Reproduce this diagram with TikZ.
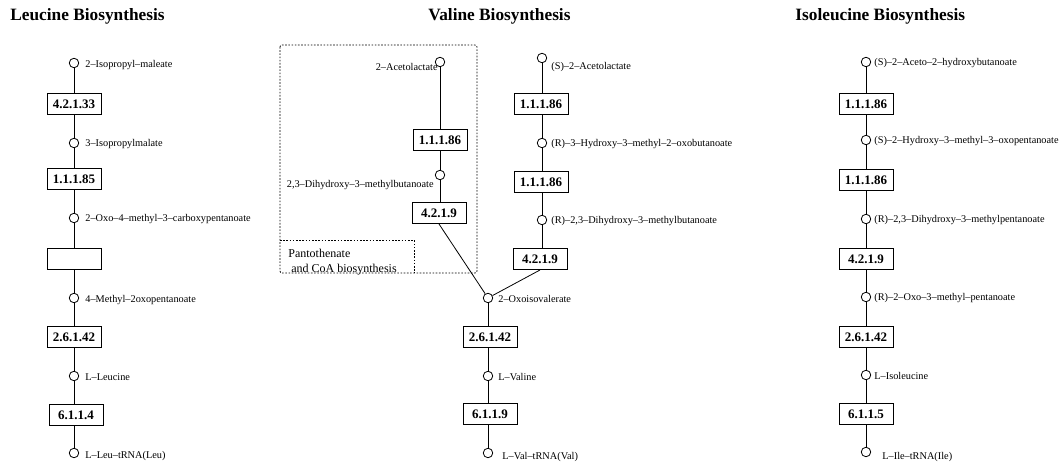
\documentclass[tikz,border=0pt]{standalone}
\usepackage{fontspec}
\setmainfont{Liberation Serif}
\usetikzlibrary{positioning}

\begin{document}
\begin{tikzpicture}[x=1pt,y=-1pt,line width=0.8pt,
	enzyme/.style={draw,fill=white,line width=1pt,minimum width=54pt,minimum height=21pt,inner sep=1pt,font=\fontsize{13}{13}\selectfont\bfseries},
	cpd/.style={circle,draw,fill=white,minimum size=9.5pt,inner sep=0pt},
	cpdlabel/.style={anchor=west,inner sep=0pt,font=\fontsize{10.3}{11}\selectfont},
	pathtitle/.style={anchor=west,inner sep=0pt,font=\fontsize{17.3}{17}\selectfont\bfseries},
	boundary/.style={dash pattern=on 1.6pt off 1.6pt}]
		\useasboundingbox (0,0) rectangle (1063,462);
		% titles
		\node[pathtitle] (leutitle) at (10,16) {Leucine Biosynthesis};
		\node[pathtitle] (valtitle) at (428,16) {Valine Biosynthesis};
		\node[pathtitle] (iletitle) at (795,16) {Isoleucine Biosynthesis};
		% Leucine
		\node[enzyme] (l1) at (74,104) {4.2.1.33};
		\node[enzyme] (l2) at (74,179) {1.1.1.85};
		\node[enzyme] (l3) at (74,259) {};
		\node[enzyme] (l4) at (74,337) {2.6.1.42};
		\node[enzyme] (l5) at (76,415) {6.1.1.4};
		\foreach \n/\y in {la/63,lb/143,lc/218,ld/298,le/376,lf/453}
		\node[cpd] (\n) at (74,\y) {};
		\draw (la) -- (l1) -- (lb) -- (l2) -- (lc) -- (l3) -- (ld) -- (l4) -- (le) -- (le |- l5.north) (l5.south -| lf) -- (lf);
		\node[cpdlabel] at (85,65) {2--Isopropyl--maleate};
		\node[cpdlabel] at (85,144) {3--Isopropylmalate};
		\node[cpdlabel] at (85,219) {2--Oxo--4--methyl--3--carboxypentanoate};
		\node[cpdlabel] at (85,300) {4--Methyl--2oxopentanoate};
		\node[cpdlabel] at (85,377) {L--Leucine};
		\node[cpdlabel] at (85,456) {L--Leu--tRNA(Leu)};
		% Valine, side branch
		\draw[boundary,rounded corners=2pt] (280,45) rectangle (477,273);
		\draw[boundary] (280,240) -- (414,240) -- (414,273);
		\node[anchor=west,align=left,inner sep=0pt,font=\fontsize{12}{15}\selectfont] (pant) at (288,262) {Pantothenate\\ \ and CoA biosynthesis};
		\node[cpd] (aa) at (440,62) {};
		\node[enzyme] (a1) at (440,140) {1.1.1.86};
		\node[cpd] (ab) at (440,175) {};
		\node[enzyme] (a2) at (439,213) {4.2.1.9};
		\draw (aa) -- (a1) -- (ab) -- (ab |- a2.north);
		\node[cpdlabel,anchor=east] at (438,67) {2--Acetolactate};
		\node[cpdlabel,anchor=east] at (434,185) {2,3--Dihydroxy--3--methylbutanoate};
		% Valine, main chain
		\node[cpd] (va) at (542,58) {};
		\node[enzyme] (v1) at (541,104) {1.1.1.86};
		\node[cpd] (vb) at (542,143) {};
		\node[enzyme] (v2) at (541,182) {1.1.1.86};
		\node[cpd] (vc) at (542,220) {};
		\node[enzyme] (v3) at (540,259) {4.2.1.9};
		\draw (va) -- (va |- v1.north) (v1.south -| vb) -- (vb) -- (vb |- v2.north) (v2.south -| vc) -- (vc) -- (vc |- v3.north);
		\node[cpdlabel] at (551,67) {(S)--2--Acetolactate};
		\node[cpdlabel] at (551,144) {(R)--3--Hydroxy--3--methyl--2--oxobutanoate};
		\node[cpdlabel] at (551,221) {(R)--2,3--Dihydroxy--3--methylbutanoate};
		\node[cpd] (vd) at (488,298) {};
		\node[enzyme] (v4) at (490,337) {2.6.1.42};
		\node[cpd] (ve) at (488,376) {};
		\node[enzyme] (v5) at (490,414) {6.1.1.9};
		\node[cpd] (vf) at (488,453) {};
		\draw (a2.south) -- (vd);
		\draw (v3.south) -- (vd);
		\draw (vd) -- (vd |- v4.north) (v4.south -| ve) -- (ve) -- (ve |- v5.north) (v5.south -| vf) -- (vf);
		\node[cpdlabel] at (498,299) {2--Oxoisovalerate};
		\node[cpdlabel] at (498,377) {L--Valine};
		\node[cpdlabel] at (502,457) {L--Val--tRNA(Val)};
		% Isoleucine
		\node[enzyme] (i1) at (866,104) {1.1.1.86};
		\node[enzyme] (i2) at (866,180) {1.1.1.86};
		\node[enzyme] (i3) at (866,259) {4.2.1.9};
		\node[enzyme] (i4) at (866,337) {2.6.1.42};
		\node[enzyme] (i5) at (866,414) {6.1.1.5};
		\foreach \n/\y in {ia/62,ib/140,ic/219,id/297,ie/375,iff/452}
		\node[cpd] (\n) at (866,\y) {};
		\draw (ia) -- (i1) -- (ib) -- (i2) -- (ic) -- (i3) -- (id) -- (i4) -- (ie) -- (i5) -- (iff);
		\node[cpdlabel] at (874,63) {(S)--2--Aceto--2--hydroxybutanoate};
		\node[cpdlabel] at (874,141) {(S)--2--Hydroxy--3--methyl--3--oxopentanoate};
		\node[cpdlabel] at (874,220) {(R)--2,3--Dihydroxy--3--methylpentanoate};
		\node[cpdlabel] at (874,298) {(R)--2--Oxo--3--methyl--pentanoate};
		\node[cpdlabel] at (874,376) {L--Isoleucine};
		\node[cpdlabel] at (882,457) {L--Ile--tRNA(Ile)};
	\end{tikzpicture}
\end{document}
